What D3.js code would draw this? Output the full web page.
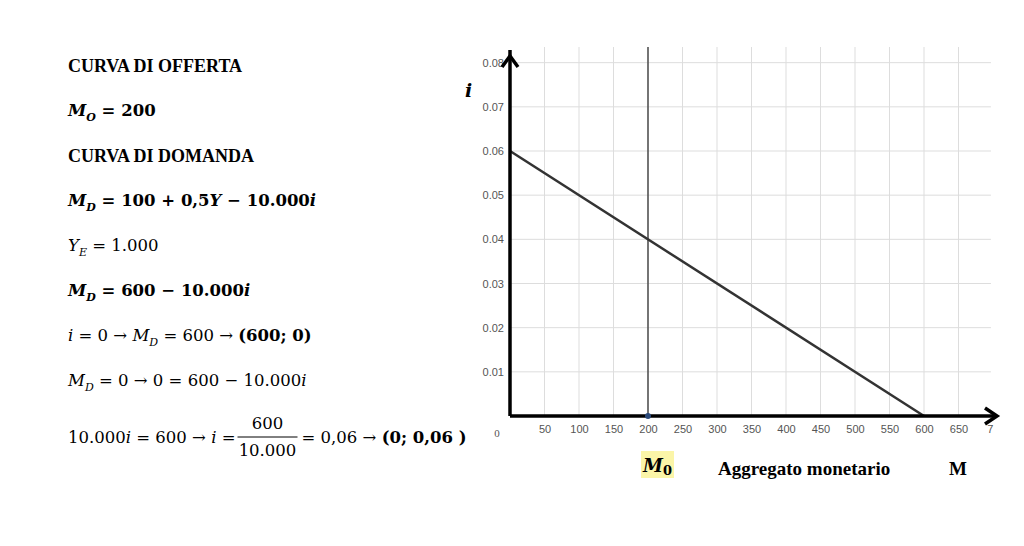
<!DOCTYPE html>
<html>
<head>
<meta charset="utf-8">
<script src="https://cdn.jsdelivr.net/npm/d3@7"></script>
<style>
body { margin: 0; background: #fff; }
text { font-family: "Liberation Serif", serif; }
.math { font-family: "DejaVu Serif", serif; }
.tick text { font-family: "Liberation Sans", Arial, sans-serif; font-size: 11px; fill: #555; }
</style>
</head>
<body>
<svg id="svg" width="1024" height="546"></svg>
<script>
let xTicks = [50, 100, 150, 200, 250, 300, 350, 400, 450, 500, 550, 600, 650, 700];
let yTicks = [0.01, 0.02, 0.03, 0.04, 0.05, 0.06, 0.07, 0.08];
let demand = [[0, 0.06], [600, 0]];   // M_D = 600 - 10.000i
let supplyM = 200;                    // M_O = 200

let svg = d3.select("#svg");

let x = d3.scaleLinear().domain([0, 600]).range([510, 924]);
let y = d3.scaleLinear().domain([0, 0.06]).range([416, 151]);
let xMax = 697, gridTop = 47;

// grid
let grid = svg.append("g").attr("stroke", "#ddd").attr("stroke-width", 1);
grid.selectAll(".v").data(xTicks.filter(d => d <= xMax)).enter().append("line")
    .attr("x1", d => x(d)).attr("x2", d => x(d))
    .attr("y1", gridTop).attr("y2", y(0));
grid.selectAll(".h").data(yTicks).enter().append("line")
    .attr("x1", x(0)).attr("x2", x(xMax))
    .attr("y1", d => y(d)).attr("y2", d => y(d));

// tick labels via axes
let xAxis = svg.append("g").attr("transform", `translate(0,${y(0)})`)
    .call(d3.axisBottom(x).tickValues(xTicks).tickSize(0).tickPadding(9)
        .tickFormat(d => d === 700 ? "7" : d));
xAxis.select(".domain").remove();
xAxis.selectAll(".tick").filter(d => d === 700).attr("transform", `translate(${x(696)},0)`);
svg.append("text").attr("x", 497).attr("y", y(0) + 21).attr("font-family", "Liberation Sans")
    .attr("font-size", 11).attr("fill", "#555").attr("text-anchor", "middle").text("0");

let yAxis = svg.append("g").attr("transform", `translate(${x(0) - 6},0)`)
    .call(d3.axisLeft(y).tickValues(yTicks).tickSize(0).tickPadding(0).tickFormat(d3.format(".2f")));
yAxis.select(".domain").remove();

// supply line
svg.append("line").attr("x1", x(supplyM)).attr("x2", x(supplyM))
    .attr("y1", gridTop).attr("y2", y(0)).attr("stroke", "#333").attr("stroke-width", 1.3);

// demand line
svg.append("path").datum(demand)
    .attr("d", d3.line().x(d => x(d[0])).y(d => y(d[1])))
    .attr("stroke", "#333").attr("stroke-width", 2.5).attr("fill", "none");

// axes with arrows
svg.append("line").attr("x1", x(0)).attr("x2", 997).attr("y1", y(0)).attr("y2", y(0))
    .attr("stroke", "#000").attr("stroke-width", 3.5);
svg.append("line").attr("x1", x(0)).attr("x2", x(0)).attr("y1", y(0)).attr("y2", 50)
    .attr("stroke", "#000").attr("stroke-width", 3.5);
svg.append("path").attr("d", `M${x(0) - 8},67 L${x(0)},56 L${x(0) + 8},67`)
    .attr("stroke", "#000").attr("stroke-width", 3.5).attr("fill", "none");
svg.append("path").attr("d", `M985,${y(0) - 8} L997,${y(0)} L985,${y(0) + 8}`)
    .attr("stroke", "#000").attr("stroke-width", 3.5).attr("fill", "none");

svg.append("circle").attr("cx", x(supplyM)).attr("cy", y(0)).attr("r", 3).attr("fill", "#2b4a7a");

// axis labels
svg.append("text").attr("class", "math").attr("x", 465).attr("y", 97).attr("font-size", 19).attr("font-weight", "bold")
    .attr("font-style", "italic").text("i");
svg.append("rect").attr("x", 641).attr("y", 451).attr("width", 33).attr("height", 27).attr("fill", "#fbf5a8");
let m0 = svg.append("text").attr("class", "math").attr("x", 643).attr("y", 472).attr("font-size", 18).attr("font-weight", "bold");
m0.append("tspan").attr("font-style", "italic").text("M");
m0.append("tspan").attr("font-size", 13).attr("dy", 3).text("0");
svg.append("text").attr("x", 718).attr("y", 475).attr("font-size", 19).attr("font-weight", "bold").text("Aggregato monetario");
svg.append("text").attr("x", 949).attr("y", 475).attr("font-size", 19).attr("font-weight", "bold").text("M");

// left text block
function line(yy, parts, bold, cls) {
    let t = svg.append("text").attr("x", 68).attr("y", yy).attr("font-size", cls ? 16.5 : 18)
        .attr("font-weight", bold ? "bold" : "normal");
    if (cls) t.attr("class", cls);
    parts.forEach(p => {
        let s = t.append("tspan").text(p[0]);
        if (p[1] === "i") s.attr("font-style", "italic");
        if (p[1] === "sub") s.attr("font-style", "italic").attr("font-size", 11).attr("dy", 5);
        if (p[1] === "b") s.attr("font-weight", "bold");
        if (p[2]) s.attr("dy", p[2]);
    });
    return t;
}
line(72, [["CURVA DI OFFERTA"]], true);
line(116, [["M", "i"], ["O", "sub"], [" = 200", null, -5]], true, "math");
line(162, [["CURVA DI DOMANDA"]], true);
line(206, [["M", "i"], ["D", "sub"], [" = 100 + 0,5", null, -5], ["Y", "i"], [" − 10.000"], ["i", "i"]], true, "math");
line(251, [["Y", "i"], ["E", "sub"], [" = 1.000", null, -5]], false, "math");
line(296, [["M", "i"], ["D", "sub"], [" = 600 − 10.000", null, -5], ["i", "i"]], true, "math");
line(341, [["i", "i"], [" = 0 →  "], ["M", "i"], ["D", "sub"], [" = 600   →  ", null, -5], ["(600; 0)", "b"]], false, "math");
line(386, [["M", "i"], ["D", "sub"], [" = 0 →  0 = 600 − 10.000", null, -5], ["i", "i"]], false, "math");
let last = line(443, [["10.000"], ["i", "i"], [" = 600 → "], ["i", "i"], [" = "]], false, "math");
let fx = 68 + last.node().getComputedTextLength() + 2;
let fw = 60;
svg.append("text").attr("class", "math").attr("x", fx + fw / 2).attr("y", 429).attr("font-size", 16.5).attr("text-anchor", "middle").text("600");
svg.append("line").attr("x1", fx).attr("x2", fx + fw).attr("y1", 437).attr("y2", 437).attr("stroke", "#000");
svg.append("text").attr("class", "math").attr("x", fx + fw / 2).attr("y", 456).attr("font-size", 16.5).attr("text-anchor", "middle").text("10.000");
let tail = svg.append("text").attr("class", "math").attr("x", fx + fw + 4).attr("y", 443).attr("font-size", 16.5);
tail.append("tspan").text("= 0,06 → ");
tail.append("tspan").attr("font-weight", "bold").text("(0; 0,06 )");
</script>
</body>
</html>
